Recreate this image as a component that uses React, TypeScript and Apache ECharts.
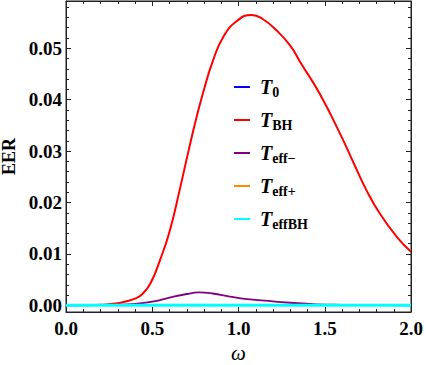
import React, { useEffect, useRef } from "react";
import * as echarts from "echarts";

const seriesNames = ["T0", "TBH", "Teff−", "Teff+", "TeffBH"];
const seriesColors = ["#0000ff", "#ff0000", "#800080", "#ff8c00", "#00ffff"];

const redData: [number, number][] = [
  [0, 0], [0.1, 0.00001], [0.2, 0.0001], [0.3, 0.0004], [0.35, 0.0008], [0.4, 0.0013],
  [0.44, 0.0021], [0.49, 0.0043], [0.545, 0.0088], [0.6, 0.0143], [0.66, 0.0226],
  [0.71, 0.0300], [0.76, 0.0370], [0.8, 0.0420], [0.85, 0.0474], [0.91, 0.0521],
  [0.99, 0.0553], [1.077, 0.0565], [1.14, 0.0557], [1.22, 0.0535], [1.3, 0.0505],
  [1.36, 0.0472], [1.47, 0.0412], [1.59, 0.0333], [1.67, 0.0275], [1.74, 0.0225],
  [1.82, 0.0178], [1.92, 0.0132], [2.0, 0.0104],
];
const purpleData: [number, number][] = [
  [0, 0], [0.2, 0.00002], [0.3, 0.0001], [0.4, 0.0003], [0.5, 0.0007], [0.6, 0.0015],
  [0.7, 0.0022], [0.77, 0.0025], [0.85, 0.0023], [0.95, 0.0017], [1.05, 0.0012],
  [1.15, 0.0009], [1.3, 0.0005], [1.45, 0.0002], [1.6, 0.0001], [2.0, 0],
];
const zeroData: [number, number][] = [[0, 0], [1, 0], [2, 0]];

const yTicks = [0, 0.01, 0.02, 0.03, 0.04, 0.05];
const yMin = -0.0013;
const yMax = 0.0592;

const yMinor: number[] = [];
for (let i = 0; i <= 29; i++) {
  if (i % 5 !== 0) yMinor.push(+(i * 0.002).toFixed(4));
}

const font = "'Liberation Serif', 'DejaVu Serif', serif";
const frame = "#222";

export default function App() {
  const ref = useRef<HTMLDivElement>(null);
  useEffect(() => {
    if (!ref.current) return;
    const chart = echarts.init(ref.current, undefined, { renderer: "svg" });
    const black = "#000";
    const gridRect = (border: boolean) => ({
      left: 66, right: 15, top: 1, bottom: 53,
      containLabel: false,
      outerBoundsMode: "none",
      show: border,
      borderColor: frame,
      borderWidth: 1,
      backgroundColor: "transparent",
    });
    const baseX = (pos: "bottom" | "top", labels: boolean, gridIndex: number, show: boolean) => ({
      type: "value",
      gridIndex,
      show,
      position: pos,
      min: 0,
      max: 2,
      interval: 0.5,
      axisLine: { show: true, onZero: false, lineStyle: { color: frame, width: 1 } },
      axisTick: { show: true, inside: true, length: 5, lineStyle: { color: frame } },
      minorTick: { show: true, splitNumber: 5, length: 3, lineStyle: { color: frame } },
      splitLine: { show: false },
      minorSplitLine: { show: false },
      axisLabel: labels
        ? { show: true, fontFamily: font, fontWeight: "bold", fontSize: 19, color: black, margin: 7, formatter: (v: number) => v.toFixed(1) }
        : { show: false },
      name: labels ? "ω" : "",
      nameLocation: "middle",
      nameGap: 30,
      nameTextStyle: { fontFamily: font, fontStyle: "italic", fontSize: 21, color: black },
    });
    const baseY = (pos: "left" | "right", major: boolean, labels: boolean, gridIndex: number) => ({
      type: "value",
      gridIndex,
      position: pos,
      min: yMin,
      max: yMax,
      axisLine: { show: major, onZero: false, lineStyle: { color: frame, width: 1 } },
      axisTick: {
        show: true,
        inside: true,
        length: major ? 5 : 3,
        customValues: major ? yTicks : yMinor,
        lineStyle: { color: frame },
      },
      splitLine: { show: false },
      axisLabel: labels
        ? { show: true, customValues: yTicks, fontFamily: font, fontWeight: "bold", fontSize: 19, color: black, margin: 4, formatter: (v: number) => v.toFixed(2) }
        : { show: false },
      name: labels ? "EER" : "",
      nameLocation: "middle",
      nameGap: 43,
      nameRotate: 90,
      nameTextStyle: { fontFamily: font, fontWeight: "bold", fontSize: 18, color: black },
    });
    const lineSeries = (i: number, data: [number, number][], width: number) => ({
      name: seriesNames[i],
      type: "line",
      data,
      smooth: 0.5,
      symbol: "none",
      xAxisIndex: 0,
      yAxisIndex: 0,
      lineStyle: { color: seriesColors[i], width },
      itemStyle: { color: seriesColors[i] },
    });
    const sub: Record<string, string> = { T0: "0", TBH: "BH", "Teff−": "eff−", "Teff+": "eff+", TeffBH: "effBH" };
    chart.setOption({
      animation: false,
      backgroundColor: "#fff",
      grid: [gridRect(true), gridRect(false)],
      xAxis: [
        baseX("bottom", true, 0, true),
        baseX("top", false, 0, true),
        baseX("bottom", false, 1, false),
      ],
      yAxis: [
        baseY("left", true, true, 0),
        baseY("right", true, false, 0),
        baseY("left", false, false, 1),
        baseY("right", false, false, 1),
      ],
      legend: {
        orient: "vertical",
        left: 229,
        top: 72,
        itemGap: 11,
        itemWidth: 16,
        itemHeight: 2,
        icon: "rect",
        data: seriesNames,
        formatter: (name: string) => `{t|T}{s|${sub[name]}}`,
        textStyle: {
          padding: [0, 0, 0, 5],
          rich: {
            t: { fontFamily: font, fontStyle: "italic", fontWeight: "bold", fontSize: 20, color: black },
            s: { fontFamily: font, fontWeight: "bold", fontSize: 14, color: black, padding: [10, 0, 0, 0] },
          },
        },
      },
      series: [
        lineSeries(0, zeroData, 1.5),
        lineSeries(1, redData, 2),
        lineSeries(2, purpleData, 1.8),
        lineSeries(3, zeroData, 1.5),
        lineSeries(4, zeroData, 3),
      ],
    });
    return () => chart.dispose();
  }, []);
  return <div ref={ref} style={{ width: 426, height: 365, position: "absolute", left: 0, top: 0 }} />;
}
